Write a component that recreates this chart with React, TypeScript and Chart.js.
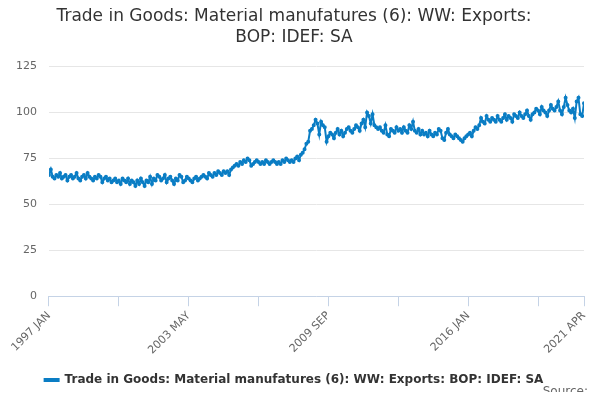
import { useEffect, useRef } from "react";
import Chart from "chart.js/auto";

const MONTHS = ["JAN", "FEB", "MAR", "APR", "MAY", "JUN", "JUL", "AUG", "SEP", "OCT", "NOV", "DEC"];
const START_YEAR = 1997;
const LABELED_EVERY = 76;

const v1997 = [66, 69, 65, 64, 66, 65, 67, 64, 65, 66, 63, 65];
const v1998 = [66, 64, 65, 67, 64, 63, 65, 66, 64, 67, 65, 64];
const v1999 = [63, 65, 64, 66, 65, 62, 64, 65, 63, 64, 62, 63];
const v2000 = [64, 62, 63, 61, 64, 63, 62, 64, 61, 63, 62, 60];
const v2001 = [63, 61, 64, 62, 60, 63, 62, 65, 61, 64, 63, 66];
const v2002 = [65, 63, 64, 66, 62, 64, 65, 63, 61, 64, 63, 66];
const v2003 = [65, 62, 63, 65, 64, 63, 62, 64, 65, 63, 64, 65];
const v2004 = [66, 65, 64, 67, 66, 65, 67, 66, 68, 67, 66, 68];
const v2005 = [67, 68, 66, 69, 70, 71, 72, 71, 73, 72, 74, 73];
const v2006 = [75, 74, 71, 72, 73, 74, 73, 72, 73, 72, 74, 73];
const v2007 = [72, 73, 74, 73, 72, 73, 72, 74, 73, 75, 74, 73];
const v2008 = [74, 73, 75, 76, 74, 77, 78, 80, 83, 84, 90, 91];
const v2009 = [93, 96, 94, 88, 95, 93, 92, 84, 87, 89, 88, 86];
const v2010 = [89, 91, 88, 90, 87, 89, 91, 92, 90, 89, 91, 93];
const v2011 = [92, 90, 94, 96, 92, 100, 98, 94, 99, 93, 92, 91];
const v2012 = [92, 90, 89, 93, 88, 87, 91, 90, 89, 92, 90, 91];
const v2013 = [89, 92, 90, 89, 93, 91, 95, 90, 89, 91, 88, 90];
const v2014 = [88, 89, 87, 90, 88, 87, 89, 88, 91, 90, 86, 85];
const v2015 = [89, 91, 88, 87, 86, 88, 87, 86, 85, 84, 86, 87];
const v2016 = [88, 89, 87, 90, 92, 91, 93, 97, 95, 94, 98, 96];
const v2017 = [95, 97, 96, 95, 98, 96, 95, 97, 99, 96, 98, 97];
const v2018 = [95, 99, 98, 97, 100, 98, 97, 99, 101, 98, 96, 99];
const v2019 = [100, 102, 101, 99, 103, 101, 100, 98, 101, 104, 102, 101];
const v2020 = [103, 106, 101, 99, 103, 108, 104, 101, 100, 102, 97, 106];
const v2021 = [108, 99, 98, 105];

const values = [
  ...v1997, ...v1998, ...v1999, ...v2000, ...v2001, ...v2002, ...v2003, ...v2004,
  ...v2005, ...v2006, ...v2007, ...v2008, ...v2009, ...v2010, ...v2011, ...v2012,
  ...v2013, ...v2014, ...v2015, ...v2016, ...v2017, ...v2018, ...v2019, ...v2020, ...v2021,
];

const label = (i: number) =>
  `${START_YEAR + Math.floor(i / 12)} ${MONTHS[i % 12]}`;

export default function App() {
  const chartRef = useRef<HTMLCanvasElement>(null);
  useEffect(() => {
    if (!chartRef.current) return;
    const last = values.length - 1;
    const chart = new Chart(chartRef.current, {
      type: "line",
      data: {
        datasets: [
          {
            label: "Trade in Goods: Material manufatures (6): WW: Exports: BOP: IDEF: SA",
            data: values.map((v, i) => ({ x: i, y: v })),
            borderColor: "#0a7dc4",
            backgroundColor: "#0a7dc4",
            borderWidth: 2,
            pointRadius: 1,
            pointHoverRadius: 1,
            tension: 0,
          },
        ],
      },
      options: {
        animation: false,
        responsive: false,
        layout: { padding: { left: 4, right: 16, top: 0, bottom: 4 } },
        scales: {
          x: {
            type: "linear",
            min: 0,
            max: last,
            afterBuildTicks: (axis) => {
              const t = [];
              for (let i = 0; i < last; i += LABELED_EVERY / 2) t.push({ value: i });
              t.push({ value: last });
              axis.ticks = t;
            },
            ticks: {
              autoSkip: false,
              maxRotation: 45,
              minRotation: 45,
              color: "#666",
              font: { family: "DejaVu Sans", size: 11 },
              callback: (v) => {
                const n = Number(v);
                return n % LABELED_EVERY === 0 || n === last ? label(n) : "";
              },
            },
            grid: {
              drawOnChartArea: false,
              color: "#c5d3e6",
              tickLength: 10,
            },
            border: { color: "#c5d3e6" },
          },
          y: {
            min: 0,
            max: 125,
            ticks: {
              stepSize: 25,
              color: "#666",
              font: { family: "DejaVu Sans", size: 11 },
              padding: 12,
            },
            grid: { color: "#e6e6e6", drawTicks: false },
            border: { display: false },
          },
        },
        plugins: {
          title: {
            display: true,
            text: ["Trade in Goods: Material manufatures (6): WW: Exports:", "BOP: IDEF: SA"],
            color: "#333",
            font: { family: "DejaVu Sans", size: 17, weight: "normal", lineHeight: 1.25 },
            padding: { top: 6, bottom: 18 },
          },
          legend: {
            position: "bottom",
            labels: {
              color: "#333",
              font: { family: "DejaVu Sans", size: 12, weight: "bold" },
              boxWidth: 14,
              boxHeight: 2,
              padding: 14,
            },
          },
          tooltip: { enabled: false },
        },
      },
      plugins: [
        {
          id: "source",
          afterDraw(c) {
            const ctx = c.ctx;
            ctx.save();
            ctx.font = "12px DejaVu Sans";
            ctx.fillStyle = "#666";
            ctx.textAlign = "right";
            ctx.fillText("Source:", 588, 392);
            ctx.restore();
          },
        },
      ],
    });
    return () => chart.destroy();
  }, []);
  return <canvas ref={chartRef} width={600} height={400} style={{ margin: -8, display: "block" }} />;
}
